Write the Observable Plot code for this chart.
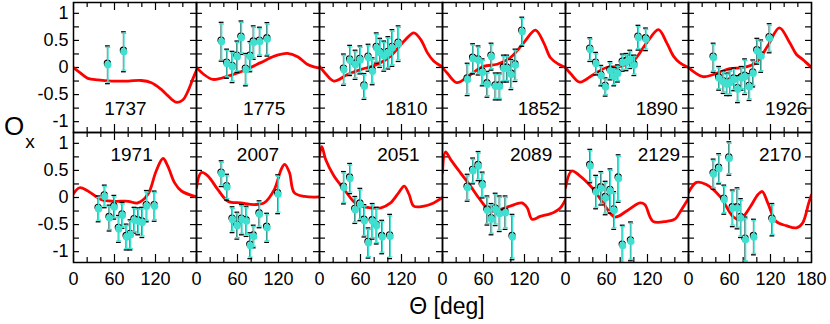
<!DOCTYPE html>
<html><head><meta charset="utf-8">
<script src="https://cdn.jsdelivr.net/npm/d3@7"></script>
<script src="https://cdn.jsdelivr.net/npm/@observablehq/plot@0.6"></script>
<style>body{margin:0;background:#fff}</style>
</head><body><div id="chart"></div>
<script>
// ---- data ----
const years = [1737,1775,1810,1852,1890,1926,1971,2007,2051,2089,2129,2170];

// red model curves: [theta (deg), Ox]
const curve_1737 = [[0,0],[10,-0.1],[21,-0.2],[36,-0.23],[55,-0.25],[80,-0.25],[99,-0.24],[114,-0.28],[128,-0.4],[138,-0.52],[150,-0.64],[160,-0.6],[167,-0.45],[175,-0.2],[180,-0.05]];
const curve_1775 = [[0,0],[10,-0.12],[24,-0.22],[46,-0.16],[70,-0.05],[94,0.09],[114,0.21],[133,0.26],[148,0.2],[162,0.06],[172,0.01],[180,-0.01]];
const curve_1810 = [[0,0.02],[8,-0.1],[21,-0.25],[41,-0.13],[60,-0.04],[85,0.06],[104,0.21],[124,0.49],[138,0.64],[148,0.52],[158,0.27],[167,0.12],[180,0.01]];
const curve_1852 = [[0,0],[8,-0.12],[21,-0.28],[41,-0.13],[60,0.02],[80,0.06],[99,0.18],[119,0.46],[136,0.69],[148,0.46],[158,0.18],[170,0.06],[180,0]];
const curve_1890 = [[0,0],[8,-0.12],[21,-0.27],[41,-0.13],[60,0],[80,0.02],[99,0.12],[119,0.46],[136,0.7],[148,0.46],[158,0.21],[167,0.09],[180,0]];
const curve_1926 = [[0,0],[10,-0.1],[21,-0.17],[41,-0.11],[60,-0.02],[80,0],[99,0.09],[116,0.4],[133,0.73],[148,0.46],[158,0.24],[167,0.15],[180,0]];
const curve_1971 = [[0,0.07],[9,0.18],[21,0.12],[41,-0.04],[60,-0.07],[80,-0.07],[94,-0.1],[109,0.06],[121,0.49],[131,0.72],[138,0.58],[148,0.27],[158,0.12],[180,0.01]];
const curve_2007 = [[0,0.18],[7,0.46],[16.5,0.4],[31,0.15],[46,-0.07],[65,-0.1],[85,-0.13],[99,-0.1],[114,0.15],[124,0.52],[129,0.61],[136,0.46],[143,0.09],[158,0.02],[180,0.01]];
const curve_2051 = [[0,0.77],[3.4,0.94],[9,0.7],[21,0.4],[36,0.15],[55,-0.13],[75,-0.19],[90,-0.19],[104,-0.1],[116,0.09],[124,0.21],[131,0.06],[138,-0.16],[153,-0.16],[167,-0.1],[180,0]];
const curve_2089 = [[0,0.46],[4.4,0.84],[12,0.7],[26,0.46],[41,0.21],[55,-0.04],[70,-0.25],[85,-0.22],[99,-0.16],[116,-0.1],[124,-0.19],[131,-0.4],[143,-0.35],[162,-0.28],[172,-0.2],[180,-0.04]];
const curve_2129 = [[0,0.18],[9,0.49],[21,0.4],[41,0.15],[55,-0.1],[72,-0.36],[89.5,-0.25],[109,-0.1],[116,-0.13],[128,-0.44],[148,-0.44],[160,-0.4],[170,-0.22],[180,-0.02]];
const curve_2170 = [[0,0.09],[11.7,0.28],[26,0.24],[46,0.02],[65,-0.35],[75,-0.41],[89.5,-0.19],[102,0.06],[108,0.11],[116,-0.1],[128,-0.44],[143,-0.52],[158,-0.56],[167,-0.47],[176,-0.1],[180,0.05]];

// measured points: [theta (deg), Ox, error]
const pts_1737 = [[49.6,0.05,0.33],[73,0.29,0.35]];
const pts_1775 = [[36,0.475,0.34],[44,0.07,0.25],[52,0.01,0.27],[59,0.2,0.27],[65,0.55,0.29],[71.5,-0.04,0.28],[78,0.2,0.26],[83,0.46,0.29],[92,0.475,0.25],[103,0.52,0.29]];
const pts_1810 = [[35,-0.04,0.27],[44,0.13,0.26],[52,0.05,0.25],[59,0.14,0.24],[65,-0.35,0.22],[71,0.18,0.23],[77,-0.07,0.23],[83,0.36,0.26],[88,0.27,0.25],[94,0.21,0.26],[100,0.27,0.28],[106,0.36,0.32],[115,0.44,0.31]];
const pts_1852 = [[36,-0.22,0.28],[44,0.16,0.26],[52,0.13,0.25],[58,-0.09,0.23],[65,-0.31,0.22],[71,0.2,0.23],[77,-0.35,0.23],[83,-0.35,0.23],[89,-0.02,0.23],[94,-0.02,0.23],[100,-0.13,0.26],[106,0.04,0.28],[116,0.66,0.25]];
const pts_1890 = [[35.5,0.33,0.2],[44,0.07,0.19],[51.6,-0.15,0.17],[58,-0.36,0.15],[65,-0.06,0.15],[70.5,-0.17,0.15],[76,-0.11,0.14],[83,0.09,0.14],[88.5,0.1,0.14],[94,0.15,0.15],[100,0.04,0.17],[106,0.55,0.21],[117,0.52,0.19]];
const pts_1926 = [[36,0.18,0.25],[44,-0.2,0.2],[50.6,-0.27,0.19],[55.5,-0.31,0.19],[60,-0.28,0.22],[66,-0.22,0.19],[71.5,-0.4,0.23],[77,-0.2,0.2],[82,-0.17,0.31],[88.5,-0.36,0.23],[94,-0.11,0.23],[100,0.3,0.22],[105.6,0.21,0.28],[118,0.54,0.25]];
const pts_1971 = [[36,-0.21,0.22],[45,0.02,0.19],[52,-0.38,0.22],[59,-0.18,0.2],[65.6,-0.58,0.23],[71,-0.33,0.22],[77,-0.73,0.22],[82.7,-0.69,0.26],[88.5,-0.42,0.22],[94,-0.44,0.23],[100,-0.46,0.26],[106.5,-0.16,0.27],[118,-0.16,0.26]];
const pts_2007 = [[36,0.44,0.22],[44,0.19,0.22],[52,-0.41,0.22],[59,-0.52,0.23],[65.7,-0.41,0.26],[72.5,-0.44,0.26],[78,-0.89,0.22],[83,-0.72,0.19],[91.5,-0.31,0.23],[102.6,-0.56,0.25],[118.7,0.06,0.34]];
const pts_2051 = [[35,0.18,0.28],[44,0.35,0.26],[51.6,-0.23,0.23],[59,-0.13,0.28],[65,-0.43,0.28],[71,-0.84,0.26],[77,-0.44,0.31],[83,-0.52,0.32],[91,-0.73,0.29],[102.6,-0.72,0.39]];
const pts_2089 = [[36,0.18,0.23],[44,0.49,0.22],[52,0.58,0.25],[58,0.23,0.22],[65,-0.24,0.25],[71,-0.4,0.27],[77,-0.22,0.28],[83,-0.3,0.31],[91.5,-0.28,0.29],[101.7,-0.73,0.4]];
const pts_2129 = [[35.5,0.58,0.29],[44,0.1,0.29],[51.6,0.17,0.29],[58,-0.01,0.29],[65,0.12,0.39],[70.5,-0.24,0.33],[77,0.35,0.42],[83,-0.89,0.36],[95,-0.81,0.34]];
const pts_2170 = [[36,0.43,0.26],[44,0.53,0.26],[51.6,-0.04,0.25],[59,0.72,0.29],[64,-0.2,0.32],[71,-0.2,0.36],[76,-0.38,0.34],[82.7,-0.78,0.4],[95,-0.73,0.31],[122,-0.41,0.28]];

const xTickLabels = ["0","60","120"];
const xTickValues = [0,60,120];
const lastXTickValue = 180, lastXTickLabel = "180";
const yTickValues = [-1,-0.5,0,0.5,1];
const yTickLabels = ["-1","-0.5","0","0.5","1"];

const curves = [curve_1737,curve_1775,curve_1810,curve_1852,curve_1890,curve_1926,curve_1971,curve_2007,curve_2051,curve_2089,curve_2129,curve_2170];
const points = [pts_1737,pts_1775,pts_1810,pts_1852,pts_1890,pts_1926,pts_1971,pts_2007,pts_2051,pts_2089,pts_2129,pts_2170];

// ---- layout (not data) ----
const W = 830, H = 324, mL = 72, mR = 18, mT = 2, mB = 62;
const NC = 6, NR = 2;
const pxX = 180 / ((W - mL - mR) / NC);
const pxY = 2.4 / ((H - mT - mB) / NR);
// year label placement within panel: [theta, Ox, anchor]
const labelPlace = [[76,-0.76,"middle"],[99,-0.76,"middle"],[158,-0.76,"end"],[172,-0.76,"end"],[164.5,-0.76,"end"],[174,-0.76,"end"],
                    [85,0.78,"middle"],[90,0.78,"middle"],[146.4,0.78,"end"],[160.6,0.78,"end"],[167.5,0.78,"end"],[165,0.78,"end"]];

const colOf = i => i % NC, rowOf = i => Math.floor(i / NC);
const curveRows = curves.flatMap((c,i) => c.map(([t,v]) => ({i, col: colOf(i), row: rowOf(i), t, v})));
const ptRows = points.flatMap((p,i) => p.map(([t,v,e]) => ({i, col: colOf(i), row: rowOf(i), t, v, e})));
const yearRows = years.map((y,i) => ({col: colOf(i), row: rowOf(i), text: String(y), t: labelPlace[i][0], v: labelPlace[i][1], anchor: labelPlace[i][2]}));
const xLabRows = [];
for (let c = 0; c < NC; c++) {
  xTickValues.forEach((t,k) => xLabRows.push({col: c, row: NR - 1, t, text: xTickLabels[k]}));
}
xLabRows.push({col: NC - 1, row: NR - 1, t: lastXTickValue, text: lastXTickLabel});
const yLabRows = [];
for (let r = 0; r < NR; r++) yTickValues.forEach((v,k) => yLabRows.push({col: 0, row: r, v, text: yTickLabels[k]}));

const xTicks = d3.range(0, 181, 20);
const yTicks = d3.range(-1, 1.001, 0.25);
const tickLenX = t => (t % 60 === 0 ? 8 : 5) * pxY;
const yTickLen = 6 * pxX;

const hline = {draw(ctx, size) { const w = Math.sqrt(size / Math.PI); ctx.moveTo(-w, 0); ctx.lineTo(w, 0); }};
const CYAN = "#40e0d0";
const fxy = {fx: "col", fy: "row"};

const chart = Plot.plot({
  width: W, height: H, marginLeft: mL, marginRight: mR, marginTop: mT, marginBottom: mB,
  style: {fontFamily: "'Liberation Sans', Arial, sans-serif", background: "white", overflow: "visible"},
  fx: {domain: d3.range(NC), padding: 0, axis: null},
  fy: {domain: d3.range(NR), padding: 0, axis: null},
  x: {domain: [0, 180], axis: null},
  y: {domain: [-1.2, 1.2], axis: null},
  marks: [
    // inward ticks
    Plot.ruleX(xTicks, {x: d => d, y1: -1.2, y2: d => -1.2 + tickLenX(d), stroke: "black", strokeWidth: 1.2}),
    Plot.ruleX(xTicks, {x: d => d, y1: 1.2, y2: d => 1.2 - tickLenX(d), stroke: "black", strokeWidth: 1.2}),
    Plot.ruleY(yTicks, {y: d => d, x1: 0, x2: yTickLen, stroke: "black", strokeWidth: 1.2}),
    Plot.ruleY(yTicks, {y: d => d, x1: 180, x2: 180 - yTickLen, stroke: "black", strokeWidth: 1.2}),
    // model curves
    Plot.line(curveRows, {x: "t", y: "v", z: "i", ...fxy, stroke: "#ff0000", strokeWidth: 2.8, curve: "catmull-rom", clip: true}),
    // black data
    Plot.ruleX(ptRows, {x: "t", y1: d => d.v - d.e, y2: d => d.v + d.e, ...fxy, stroke: "black", strokeWidth: 1, clip: true}),
    Plot.dot(ptRows, {x: "t", y: d => d.v + d.e, ...fxy, symbol: hline, r: 2.4, stroke: "black", strokeWidth: 1.3, dy: -1, clip: true}),
    Plot.dot(ptRows, {x: "t", y: d => d.v - d.e, ...fxy, symbol: hline, r: 2.4, stroke: "black", strokeWidth: 1.3, dy: 1, clip: true}),
    Plot.dot(ptRows, {x: "t", y: "v", ...fxy, r: 3.1, stroke: "black", fill: "none", strokeWidth: 1.1, dy: -1.6, clip: true}),
    // cyan data
    Plot.ruleX(ptRows, {x: "t", y1: d => d.v - d.e, y2: d => d.v + d.e, ...fxy, stroke: CYAN, strokeWidth: 1.6, dx: 0.5, clip: true}),
    Plot.dot(ptRows, {x: "t", y: d => d.v + d.e, ...fxy, symbol: hline, r: 2.4, stroke: CYAN, strokeWidth: 1.2, dx: 0.5, dy: 0.6, clip: true}),
    Plot.dot(ptRows, {x: "t", y: d => d.v - d.e, ...fxy, symbol: hline, r: 2.4, stroke: CYAN, strokeWidth: 1.2, dx: 0.5, dy: -0.6, clip: true}),
    Plot.dot(ptRows, {x: "t", y: "v", ...fxy, r: 3.6, fill: CYAN, stroke: "none", dx: 0.5, clip: true}),
    // frames
    Plot.frame({stroke: "black", strokeWidth: 1.5}),
    // year labels
    Plot.text(yearRows.filter(d => d.anchor === "middle"), {x: "t", y: "v", text: "text", ...fxy, textAnchor: "middle", fontSize: 19, fill: "black"}),
    Plot.text(yearRows.filter(d => d.anchor === "end"), {x: "t", y: "v", text: "text", ...fxy, textAnchor: "end", fontSize: 19, fill: "black"}),
    // tick labels
    Plot.text(xLabRows, {x: "t", y: -1.2, text: "text", ...fxy, textAnchor: "middle", dy: 16.5, fontSize: 18, fill: "black"}),
    Plot.text(yLabRows, {x: 0, y: "v", text: "text", ...fxy, textAnchor: "end", dx: -5, fontSize: 18, fill: "black"})
  ]
});

document.getElementById("chart").appendChild(chart);
const svg = d3.select(chart.tagName.toLowerCase() === "svg" ? chart : chart.querySelector("svg"));
svg.append("text").attr("x", 447).attr("y", 314).attr("text-anchor", "middle")
  .attr("font-size", 23).attr("fill", "black").text("Θ [deg]");
const oy = svg.append("text").attr("x", 4).attr("y", 135).attr("text-anchor", "start").attr("font-size", 26).attr("fill", "black");
oy.append("tspan").text("O");
oy.append("tspan").attr("font-size", 19).attr("dx", 1).attr("dy", 13).text("x");
</script>
</body></html>
